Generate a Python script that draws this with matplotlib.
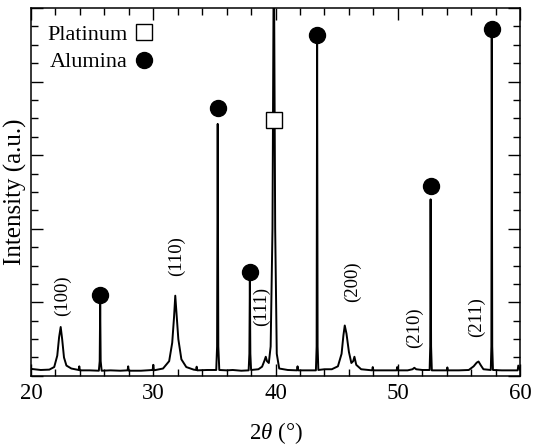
#!/usr/bin/env python3
# XRD pattern, platinum + alumina reflections marked
import matplotlib
matplotlib.use('Agg')
import matplotlib.pyplot as plt
from matplotlib.lines import Line2D
from matplotlib.ticker import MultipleLocator

# trace (2theta in deg, intensity in arbitrary units)
two_theta = [20.0, 20.8, 21.5, 21.9, 22.15, 22.3, 22.43, 22.55, 22.7, 22.9,
             23.3, 23.9, 23.95, 24.0, 24.8, 25.55, 25.62, 25.66, 25.70, 25.78,
             26.5, 27.3, 27.9, 27.95, 28.0, 29.0, 29.95, 30.0, 30.05, 30.8,
             31.3, 31.55, 31.7, 31.8, 31.9, 32.05, 32.3, 32.7, 33.3, 33.5,
             33.55, 33.6, 34.4, 35.15, 35.22, 35.27, 35.32, 35.4, 36.0, 36.5,
             37.2, 37.8, 37.86, 37.9, 37.94, 38.0, 38.6, 38.9, 39.1, 39.2,
             39.3, 39.45, 39.6, 39.75, 39.86, 39.97, 40.1, 40.3, 41.0, 41.75,
             41.8, 41.85, 42.5, 43.3, 43.36, 43.4, 43.44, 43.5, 44.0, 44.6,
             45.1, 45.4, 45.55, 45.66, 45.8, 46.0, 46.2, 46.35, 46.45, 46.6,
             47.0, 47.9, 47.95, 48.0, 49.0, 49.9, 49.95, 50.0, 50.8, 51.2,
             51.35, 51.5, 52.0, 52.6, 52.65, 52.68, 52.72, 52.78, 53.4, 54.0,
             54.05, 54.1, 55.0, 55.8, 56.2, 56.45, 56.6, 56.8, 57.0, 57.6,
             57.65, 57.68, 57.72, 57.78, 58.5, 59.2, 59.8, 59.85, 60.0]
intensity = [1.9, 1.6, 1.7, 2.4, 5.5, 10.5, 13.3, 10.0, 5.0, 2.8,
             2.0, 1.6, 2.6, 1.5, 1.5, 1.4, 4.0, 20.0, 4.0, 1.4,
             1.5, 1.4, 1.5, 2.6, 1.4, 1.4, 1.6, 3.0, 1.5, 2.0,
             4.0, 9.0, 16.0, 21.8, 17.0, 10.0, 4.5, 2.4, 1.7, 1.6,
             2.5, 1.5, 1.6, 1.6, 8.0, 68.5, 8.0, 1.6, 1.5, 1.6,
             1.4, 1.5, 6.0, 25.9, 6.0, 1.6, 1.8, 2.5, 4.2, 5.2,
             4.0, 3.5, 8.0, 40.0, 120.0, 40.0, 6.0, 2.0, 1.6, 1.5,
             2.6, 1.5, 1.5, 1.5, 8.0, 91.0, 8.0, 1.6, 1.8, 1.8,
             2.6, 6.0, 11.0, 13.7, 11.5, 6.5, 3.5, 4.0, 5.2, 3.0,
             1.8, 1.5, 2.4, 1.5, 1.5, 1.5, 2.4, 1.5, 1.5, 1.8,
             2.2, 1.8, 1.6, 1.6, 8.0, 48.0, 8.0, 1.5, 1.5, 1.5,
             2.3, 1.5, 1.5, 1.6, 2.6, 3.6, 3.9, 2.8, 1.8, 1.6,
             8.0, 93.0, 8.0, 1.6, 1.5, 1.5, 1.5, 2.8, 1.6]

# phase markers
alumina_x = [25.66, 35.27, 37.9, 43.4, 52.68, 57.68]
alumina_y = [22.0, 72.8, 28.2, 92.8, 51.7, 94.2]
platinum_x = [39.86]
platinum_y = [69.6]

# Miller index labels
hkl = ['(100)', '(110)', '(111)', '(200)', '(210)', '(211)']
hkl_x = [22.6, 31.9, 38.85, 46.3, 51.35, 56.45]
hkl_y = [21.8, 32.7, 18.8, 25.5, 13.0, 16.0]

plt.rcParams['font.family'] = ['Liberation Serif', 'DejaVu Serif']
plt.rcParams['mathtext.fontset'] = 'custom'
plt.rcParams['mathtext.rm'] = 'Liberation Serif'
plt.rcParams['mathtext.it'] = 'Liberation Serif:italic'

fig = plt.figure(figsize=(5.34, 4.48), dpi=100)
ax = fig.add_axes([0.058, 0.161, 0.916, 0.821])

ax.plot(two_theta, intensity, color='black', lw=1.4, zorder=2)
ax.plot(alumina_x, alumina_y, 'o', color='black', ms=11.5, zorder=3)
ax.plot(platinum_x, platinum_y, 's', mfc='white', mec='black', mew=1.0,
        ms=11.5, zorder=3)

for lab, x, y in zip(hkl, hkl_x, hkl_y):
    ax.text(x, y, lab, rotation=90, ha='center', va='center', fontsize=13.5)

ax.set_xlim(20, 60)
ax.set_ylim(0, 100)
ax.xaxis.set_major_locator(MultipleLocator(10))
ax.xaxis.set_minor_locator(MultipleLocator(2))
ax.yaxis.set_major_locator(MultipleLocator(20))
ax.yaxis.set_minor_locator(MultipleLocator(5))
ax.tick_params(which='both', direction='in', top=True, right=True,
               labelleft=False, width=1.0, labelsize=16.5)
ax.tick_params(which='major', length=8.5, pad=5)
ax.tick_params(which='minor', length=5)
for s in ax.spines.values():
    s.set_linewidth(1.1)

ax.set_xlabel(r'2$\it{\theta}$ (°)', fontsize=16.5, labelpad=12)
ax.set_ylabel('Intensity (a.u.)', fontsize=18, labelpad=3)

handles = [Line2D([], [], ls='none', marker='s', mfc='white', mec='black',
                  ms=11.5, label='Platinum'),
           Line2D([], [], ls='none', marker='o', color='black', ms=11.5,
                  label='Alumina')]
ax.legend(handles=handles, loc='upper left', bbox_to_anchor=(0.01, 0.985),
          markerfirst=False, frameon=False, fontsize=16, handlelength=0.8,
          handletextpad=0.35, labelspacing=0.3, borderaxespad=0.3,
          borderpad=0.2)

fig.savefig('out.png', dpi=100)
